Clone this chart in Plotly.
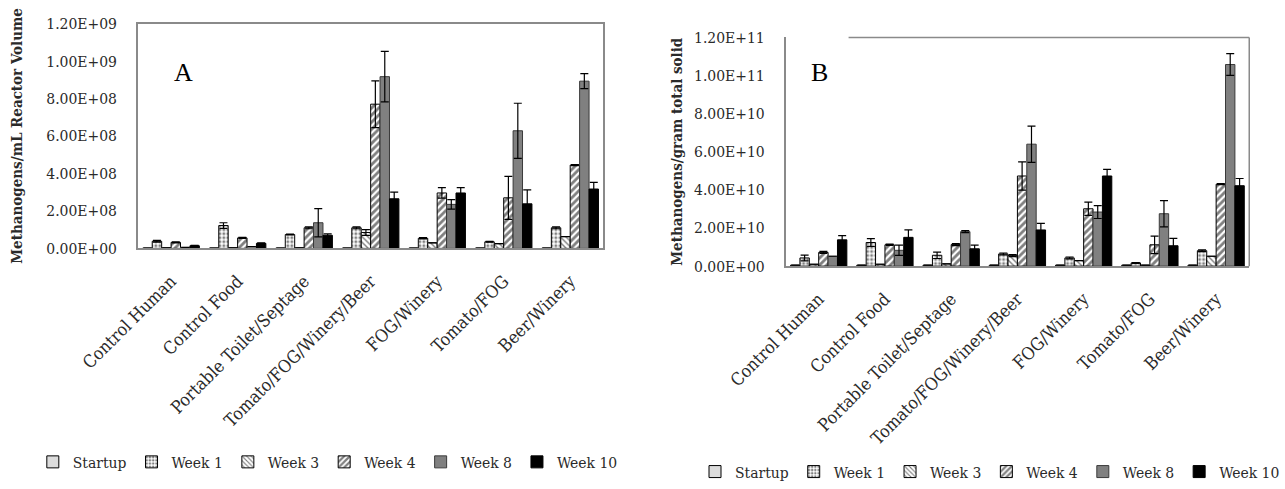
import plotly.graph_objects as go

categories = ["Control Human", "Control Food", "Portable Toilet/Septage",
              "Tomato/FOG/Winery/Beer", "FOG/Winery", "Tomato/FOG", "Beer/Winery"]
series_names = ["Startup", "Week 1", "Week 3", "Week 4", "Week 8", "Week 10"]

# Panel A: Methanogens/mL reactor volume
a_startup = [2e6, 2e6, 2e6, 2e6, 2e6, 2e6, 2e6]
a_week1 = [3.8e7, 1.22e8, 7.4e7, 1.10e8, 5.4e7, 3.5e7, 1.10e8]
a_week3 = [3e6, 3e6, 3e6, 8.5e7, 3.0e7, 2.5e7, 6.3e7]
a_week4 = [3.2e7, 5.6e7, 1.10e8, 7.70e8, 2.96e8, 2.70e8, 4.45e8]
a_week8 = [5e6, 1.0e7, 1.37e8, 9.17e8, 2.35e8, 6.28e8, 8.93e8]
a_week10 = [1.4e7, 2.7e7, 7.0e7, 2.65e8, 2.96e8, 2.38e8, 3.17e8]
a_week1_err = [5e6, 1.5e7, 2e6, 5e6, 3e6, 2e6, 5e6]
a_week3_err = [0, 0, 0, 1.5e7, 0, 0, 0]
a_week4_err = [3e6, 3e6, 5e6, 1.25e8, 2.8e7, 1.15e8, 3e6]
a_week8_err = [0, 0, 7.5e7, 1.35e8, 2.5e7, 1.47e8, 4.0e7]
a_week10_err = [2e6, 2e6, 8e6, 3.5e7, 2.9e7, 7.5e7, 3.5e7]

# Panel B: Methanogens/gram total solid
b_startup = [5e8, 5e8, 5e8, 5e8, 5e8, 5e8, 5e8]
b_week1 = [4.3e9, 1.24e10, 5.7e9, 6.4e9, 4.3e9, 1.7e9, 8.1e9]
b_week3 = [1.0e9, 1.0e9, 1.2e9, 5.5e9, 2.9e9, 5e8, 5.2e9]
b_week4 = [7.2e9, 1.12e10, 1.13e10, 4.73e10, 3.01e10, 1.12e10, 4.30e10]
b_week8 = [5.2e9, 8.3e9, 1.81e10, 6.40e10, 2.84e10, 2.75e10, 1.058e11]
b_week10 = [1.38e10, 1.51e10, 9.1e9, 1.90e10, 4.73e10, 1.07e10, 4.22e10]
b_week1_err = [1.5e9, 2.0e9, 1.7e9, 5e8, 5e8, 2e8, 5e8]
b_week3_err = [0, 0, 0, 5e8, 0, 0, 0]
b_week4_err = [5e8, 3e8, 5e8, 7.4e9, 3.5e9, 4.6e9, 3e8]
b_week8_err = [0, 2.7e9, 5e8, 9.5e9, 3.4e9, 6.9e9, 5.7e9]
b_week10_err = [2.2e9, 3.9e9, 1.9e9, 3.4e9, 3.5e9, 3.9e9, 3.8e9]

a_tickvals = [0, 2e8, 4e8, 6e8, 8e8, 1e9, 1.2e9]
a_ticktext = ["0.00E+00", "2.00E+08", "4.00E+08", "6.00E+08", "8.00E+08", "1.00E+09", "1.20E+09"]
b_tickvals = [0, 2e10, 4e10, 6e10, 8e10, 1e11, 1.2e11]
b_ticktext = ["0.00E+00", "2.00E+10", "4.00E+10", "6.00E+10", "8.00E+10", "1.00E+11", "1.20E+11"]

FONT = "DejaVu Serif Condensed, DejaVu Serif, Liberation Serif, serif"
TXT = "#2a2a2a"

styles = [
    dict(color="#dcdcdc", line=dict(color="black", width=1)),
    dict(color="white", line=dict(color="black", width=1),
         pattern=dict(shape=".", fgcolor="black", bgcolor="white", size=4, solidity=0.45)),
    dict(color="white", line=dict(color="black", width=1),
         pattern=dict(shape="\\", fgcolor="black", bgcolor="white", size=4, solidity=0.35)),
    dict(color="white", line=dict(color="black", width=1),
         pattern=dict(shape="/", fgcolor="black", bgcolor="white", size=5, solidity=0.55)),
    dict(color="#808080", line=dict(color="#3a3a3a", width=1)),
    dict(color="black", line=dict(color="black", width=1)),
]

a_vals = [a_startup, a_week1, a_week3, a_week4, a_week8, a_week10]
a_errs = [[0] * 7, a_week1_err, a_week3_err, a_week4_err, a_week8_err, a_week10_err]
b_vals = [b_startup, b_week1, b_week3, b_week4, b_week8, b_week10]
b_errs = [[0] * 7, b_week1_err, b_week3_err, b_week4_err, b_week8_err, b_week10_err]

fig = go.Figure()
for i, name in enumerate(series_names):
    fig.add_trace(go.Bar(
        x=categories, y=a_vals[i], name=name, marker=styles[i],
        error_y=dict(type="data", array=a_errs[i], visible=True, color="black", thickness=1.2, width=4),
        xaxis="x", yaxis="y", legend="legend"))
for i, name in enumerate(series_names):
    fig.add_trace(go.Bar(
        x=categories, y=b_vals[i], name=name, marker=styles[i],
        error_y=dict(type="data", array=b_errs[i], visible=True, color="black", thickness=1.2, width=4),
        xaxis="x2", yaxis="y2", legend="legend2"))

tick_font = dict(family=FONT, size=15.5, color=TXT)
cat_font = dict(family=FONT, size=17.5, color=TXT)
title_font = dict(family=FONT, size=15, color=TXT)
leg_font = dict(family=FONT, size=15.5, color=TXT)
frame_col = "#8a8a8a"

fig.update_layout(
    width=1285, height=489,
    margin=dict(l=0, r=0, t=0, b=0),
    paper_bgcolor="white", plot_bgcolor="white",
    barmode="group", bargap=0.15, bargroupgap=0,
    font=dict(family=FONT, color=TXT),
    xaxis=dict(domain=[140 / 1285, 613 / 1285], anchor="y", tickangle=-45,
               tickfont=cat_font, automargin=False,
               showline=True, mirror=True, linecolor=frame_col, linewidth=1.5,
               ticks="", ticklabelstandoff=14),
    yaxis=dict(domain=[1 - 252 / 489, 1 - 24 / 489], anchor="x", range=[0, 1.2e9],
               tickvals=a_tickvals, ticktext=a_ticktext, tickfont=tick_font, automargin=False,
               showgrid=False, zeroline=False, showline=True, mirror=True,
               linecolor=frame_col, linewidth=1.5, ticks="", ticklabelstandoff=16,
               title=dict(text="<b>Methanogens/mL Reactor Volume</b>", font=title_font, standoff=20)),
    xaxis2=dict(domain=[798 / 1285, 1269 / 1285], anchor="y2", tickangle=-45,
                tickfont=cat_font, automargin=False,
                showline=True, linecolor=frame_col, linewidth=1.5,
                ticks="", ticklabelstandoff=14),
    yaxis2=dict(domain=[1 - 270 / 489, 1 - 38 / 489], anchor="x2", range=[0, 1.2e11],
                tickvals=b_tickvals, ticktext=b_ticktext, tickfont=tick_font, automargin=False,
                showgrid=False, zeroline=False, showline=True,
                linecolor=frame_col, linewidth=1.5, ticks="", ticklabelstandoff=16,
                title=dict(text="<b>Methanogens/gram total solid</b>", font=title_font, standoff=8)),
    legend=dict(orientation="h", x=333 / 1285, y=1 - 469 / 489, xanchor="center", yanchor="middle",
                font=leg_font, itemwidth=30, traceorder="normal"),
    legend2=dict(orientation="h", x=1006 / 1285, y=1 - 479 / 489, xanchor="center", yanchor="middle",
                 font=leg_font, itemwidth=30, traceorder="normal"),
    annotations=[
        dict(text="A", x=175 / 1285, y=1 - 57 / 489, xref="paper", yref="paper",
             showarrow=False, font=dict(family="Liberation Serif, serif", size=26, color="black")),
        dict(text="B", x=832 / 1285, y=1 - 57 / 489, xref="paper", yref="paper",
             showarrow=False, font=dict(family="Liberation Serif, serif", size=26, color="black")),
    ],
    shapes=[
        dict(type="line", xref="paper", yref="paper", x0=862 / 1285, x1=1269 / 1285,
             y0=1 - 38 / 489, y1=1 - 38 / 489, line=dict(color=frame_col, width=1.5)),
        dict(type="line", xref="paper", yref="paper", x0=1269 / 1285, x1=1269 / 1285,
             y0=1 - 38 / 489, y1=1 - 270 / 489, line=dict(color=frame_col, width=1.5)),
    ],
)

fig.write_html("out.html")
